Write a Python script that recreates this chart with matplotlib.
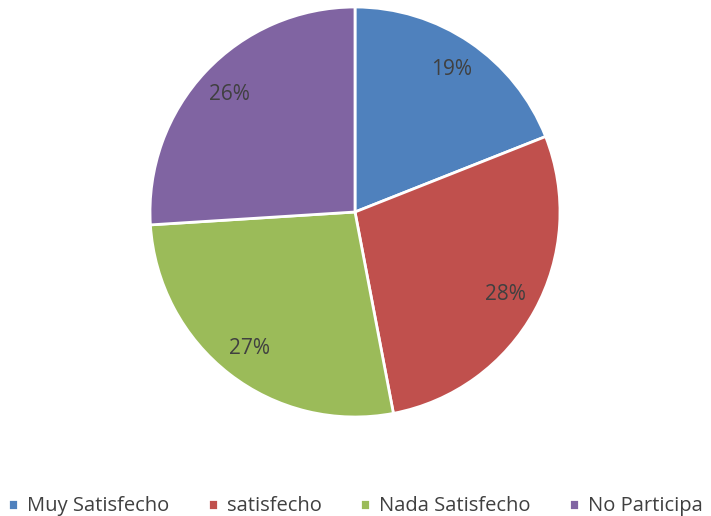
import matplotlib
matplotlib.use('Agg')
import matplotlib.pyplot as plt

plt.rcParams['font.family'] = ['Open Sans', 'DejaVu Sans']

labels = ['Muy Satisfecho', 'satisfecho', 'Nada Satisfecho', 'No Participa']
values = [19, 28, 27, 26]
colors = ['#4F81BD', '#C0504D', '#9BBB59', '#8064A2']

fig = plt.figure(figsize=(7.11, 5.16), dpi=100)
# pie centre ~ (355, 212) px, radius ~ 205 px
ax = fig.add_axes([150 / 711, (516 - 212 - 205) / 516, 410 / 711, 410 / 516])

wedges, texts, autotexts = ax.pie(
    values, colors=colors, startangle=90, counterclock=False,
    autopct='%1.0f%%', pctdistance=0.84,
    wedgeprops=dict(edgecolor='white', linewidth=2),
    textprops=dict(color='#404040', fontsize=15))
ax.set_aspect('equal')
ax.set_xlim(-1, 1)
ax.set_ylim(-1, 1)

fig.legend(wedges, labels, loc='lower center', bbox_to_anchor=(0.5, -0.036),
           ncol=4, frameon=False, fontsize=14.5, handlelength=0.5, handleheight=0.5,
           handletextpad=0.45, columnspacing=1.9, labelcolor='#404040')

fig.savefig('out.png', dpi=100)
